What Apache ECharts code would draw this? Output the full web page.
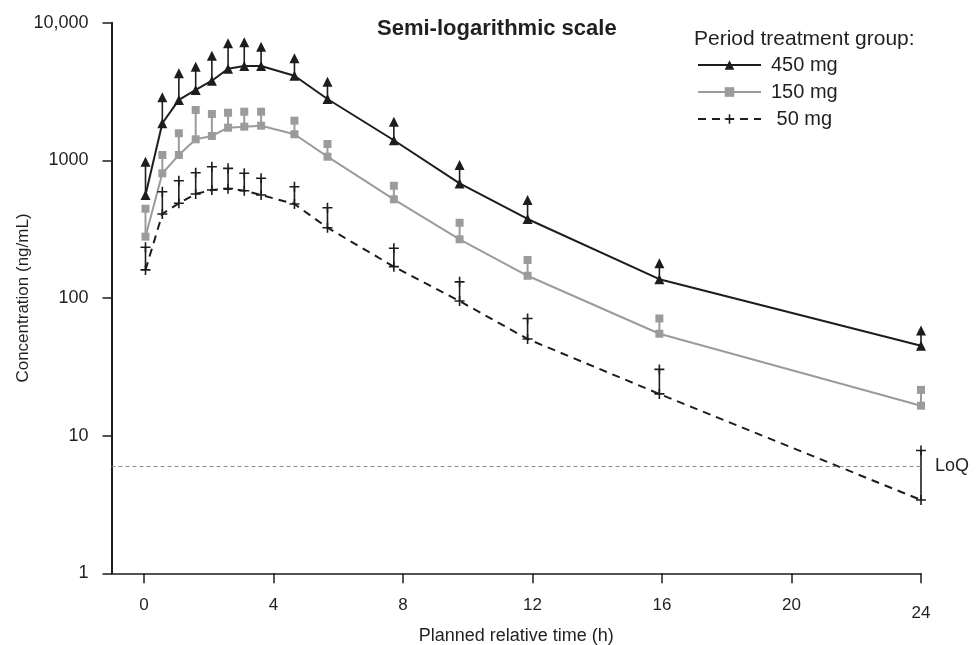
<!DOCTYPE html>
<html>
<head>
<meta charset="utf-8">
<script src="https://cdn.jsdelivr.net/npm/echarts@6/dist/echarts.min.js"></script>
<style>html,body{margin:0;padding:0;background:#fff;overflow:hidden}#c{width:976px;height:645px}</style>
</head>
<body>
<div id="c"></div>
<script>
// Planned relative time (h)
const times = [0.05, 0.57, 1.08, 1.6, 2.1, 2.6, 3.1, 3.62, 4.65, 5.67, 7.72, 9.75, 11.85, 15.92, 24];
// 450 mg: mean and upper error bar
const mean450 = [560, 1860, 2750, 3250, 3790, 4630, 4850, 4850, 4120, 2790, 1400, 680, 375, 137, 45];
const top450  = [975, 2870, 4290, 4790, 5760, 7090, 7200, 6690, 5510, 3730, 1910, 925, 515, 179, 58];
// 150 mg
const mean150 = [279, 805, 1094, 1422, 1503, 1727, 1756, 1785, 1547, 1063, 521, 267, 145, 55, 16.5];
const top150  = [445, 1094, 1573, 2322, 2171, 2219, 2256, 2256, 1942, 1315, 654, 352, 189, 71, 21.5];
// 50 mg
const mean50 = [160, 408, 488, 570, 609, 623, 602, 560, 482, 324, 169, 95, 50.4, 20.1, 3.41];
const top50  = [234, 592, 711, 813, 899, 875, 805, 741, 643, 453, 230, 131, 71, 30.3, 7.8];
// Axis ticks
const xTicks = [0, 4, 8, 12, 16, 20, 24];
const loq = 6;
const seriesNames = ['450 mg', '150 mg', '50 mg'];

const BLACK = '#1e1c1d';
const GRAY = '#9b9b9b';
const TXT = '#231f20';
const FONT = '"Liberation Sans", Arial, sans-serif';
const NARROW = '"Liberation Sans Narrow", "Liberation Sans", Arial, sans-serif';
const PLUS = 'path://M4.2,0 H5.8 V4.2 H10 V5.8 H5.8 V10 H4.2 V5.8 H0 V4.2 H4.2 Z';

function pairs(a) { return times.map((t, i) => [t, a[i]]); }

function errSeries(means, tops, color, width) {
  return {
    type: 'custom',
    silent: true,
    z: 2,
    encode: { x: 0, y: [1, 2] },
    data: times.map((t, i) => [t, means[i], tops[i]]),
    renderItem: function (params, api) {
      const p1 = api.coord([api.value(0), api.value(1)]);
      const p2 = api.coord([api.value(0), api.value(2)]);
      return { type: 'line', shape: { x1: p1[0], y1: p1[1], x2: p2[0], y2: p2[1] },
               style: { stroke: color, lineWidth: width } };
    }
  };
}
function topSeries(tops, symbol, size, color) {
  return { type: 'scatter', silent: true, z: 4, symbol: symbol, symbolSize: size,
           itemStyle: { color: color, opacity: 1 }, data: pairs(tops) };
}

const chart = echarts.init(document.getElementById('c'), null, { renderer: 'canvas' });
chart.setOption({
  animation: false,
  backgroundColor: '#fff',
  title: [
    { text: 'Semi-logarithmic scale', left: 377, top: 18, padding: 0,
      textStyle: { fontFamily: FONT, fontWeight: 'bold', fontSize: 22, color: TXT } },
    { text: 'Period treatment group:', left: 694, top: 29, padding: 0,
      textStyle: { fontFamily: FONT, fontWeight: 'normal', fontSize: 21, color: TXT } }
  ],
  legend: {
    data: seriesNames,
    orient: 'vertical', left: 697, top: 55, padding: 0,
    itemWidth: 63, itemHeight: 12, itemGap: 7,
    selectedMode: false,
    textStyle: { fontFamily: FONT, fontSize: 20, color: TXT, padding: [0, 0, 0, 5] },
    formatter: function (n) { return n === '50 mg' ? ' ' + n : n; }
  },
  grid: { left: 111.5, right: 55, top: 22.7, bottom: 71.7, containLabel: false, outerBoundsMode: 'none' },
  xAxis: {
    type: 'value', min: -1, max: 24,
    name: 'Planned relative time (h)', nameLocation: 'middle', nameGap: 49,
    nameTextStyle: { fontFamily: NARROW, fontSize: 18, color: TXT },
    axisLine: { show: true, onZero: false, lineStyle: { color: BLACK, width: 1.5 } },
    axisTick: { show: true, length: 10, customValues: xTicks, lineStyle: { color: BLACK, width: 1.5 } },
    axisLabel: {
      customValues: xTicks, margin: 24, fontFamily: NARROW, fontSize: 17, color: TXT,
      formatter: function (v) { return v === 24 ? '{low|24}' : String(v); },
      rich: { low: { fontFamily: NARROW, fontSize: 17, color: TXT, padding: [8, 0, 0, 0] } }
    },
    splitLine: { show: false }
  },
  yAxis: {
    type: 'log', logBase: 10, min: 1, max: 10000,
    name: 'Concentration (ng/mL)', nameLocation: 'middle', nameGap: 80, nameMoveOverlap: false,
    nameTextStyle: { fontFamily: FONT, fontSize: 17, color: TXT },
    axisLine: { show: true, onZero: false, lineStyle: { color: BLACK, width: 2 } },
    axisTick: { show: true, length: 9, lineStyle: { color: BLACK, width: 1.5 } },
    axisLabel: { margin: 23, fontFamily: FONT, fontSize: 18, color: TXT,
      formatter: function (v) { return v >= 10000 ? '10,000' : String(v); } },
    minorTick: { show: false },
    splitLine: { show: false }
  },
  series: [
    errSeries(mean450, top450, BLACK, 1.6),
    errSeries(mean150, top150, GRAY, 2),
    errSeries(mean50, top50, BLACK, 1.6),
    {
      name: '450 mg', type: 'line', z: 3, data: pairs(mean450),
      symbol: 'triangle', symbolSize: 10, showAllSymbol: true,
      lineStyle: { color: BLACK, width: 2 }, itemStyle: { color: BLACK }
    },
    {
      name: '150 mg', type: 'line', z: 3, data: pairs(mean150),
      symbol: 'rect', symbolSize: 8, showAllSymbol: true,
      lineStyle: { color: GRAY, width: 2 }, itemStyle: { color: GRAY }
    },
    {
      name: '50 mg', type: 'line', z: 3, data: pairs(mean50),
      symbol: PLUS, symbolSize: 10, showAllSymbol: true,
      lineStyle: { color: BLACK, width: 2, type: [8, 6] }, itemStyle: { color: BLACK },
      markLine: {
        silent: true, symbol: 'none', animation: false,
        data: [{ yAxis: loq }],
        lineStyle: { color: '#8a8a8a', width: 1, type: [4, 3] },
        label: { show: true, position: 'end', distance: 14, formatter: 'LoQ',
                 fontFamily: FONT, fontSize: 18, color: TXT }
      }
    },
    topSeries(top450, 'triangle', 10, BLACK),
    topSeries(top150, 'rect', 8, GRAY),
    topSeries(top50, PLUS, 10, BLACK)
  ]
});
</script>
</body>
</html>
